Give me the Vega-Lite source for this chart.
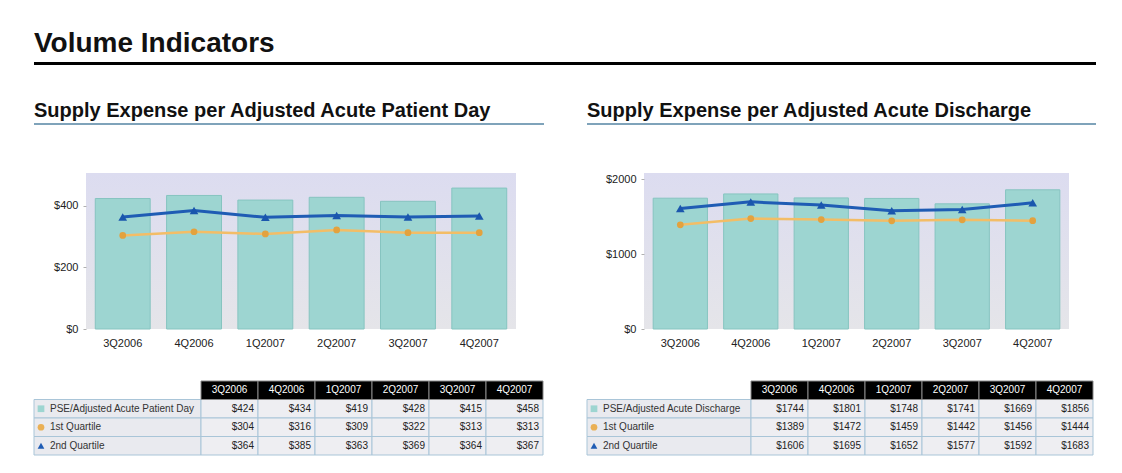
{
  "$schema": "https://vega.github.io/schema/vega-lite/v6.json",
  "background": "white",
  "padding": {"left": 33, "top": 30, "right": 27, "bottom": 20},
  "spacing": 0,
  "config": {
    "view": {"stroke": null},
    "font": "Liberation Sans",
    "title": {"anchor": "start", "baseline": "alphabetic", "font": "Liberation Sans", "fontWeight": "bold", "color": "#111111"}
  },
  "datasets": {
    "left": [
      {"quarter": "3Q2006", "pse": 424, "q1": 304, "q2": 364},
      {"quarter": "4Q2006", "pse": 434, "q1": 316, "q2": 385},
      {"quarter": "1Q2007", "pse": 419, "q1": 309, "q2": 363},
      {"quarter": "2Q2007", "pse": 428, "q1": 322, "q2": 369},
      {"quarter": "3Q2007", "pse": 415, "q1": 313, "q2": 364},
      {"quarter": "4Q2007", "pse": 458, "q1": 313, "q2": 367}
    ],
    "right": [
      {"quarter": "3Q2006", "pse": 1744, "q1": 1389, "q2": 1606},
      {"quarter": "4Q2006", "pse": 1801, "q1": 1472, "q2": 1695},
      {"quarter": "1Q2007", "pse": 1748, "q1": 1459, "q2": 1652},
      {"quarter": "2Q2007", "pse": 1741, "q1": 1442, "q2": 1577},
      {"quarter": "3Q2007", "pse": 1669, "q1": 1456, "q2": 1592},
      {"quarter": "4Q2007", "pse": 1856, "q1": 1444, "q2": 1683}
    ],
    "labelsL": [
      {"key": "pse", "label": "PSE/Adjusted Acute Patient Day"},
      {"key": "q1", "label": "1st Quartile"},
      {"key": "q2", "label": "2nd Quartile"}
    ],
    "labelsR": [
      {"key": "pse", "label": "PSE/Adjusted Acute Discharge"},
      {"key": "q1", "label": "1st Quartile"},
      {"key": "q2", "label": "2nd Quartile"}
    ]
  },
  "vconcat": [
    {
      "width": 1062, "height": 3,
      "view": {"fill": "#000000"},
      "title": {"text": "Volume Indicators", "fontSize": 28, "offset": 4},
      "data": {"values": []},
      "mark": "point"
    },
    {"width": 1, "height": 36, "data": {"values": []}, "mark": "point"},
    {
      "hconcat": [
        {
          "width": 510, "height": 2,
          "view": {"fill": "#7fa3ba"},
          "title": {"text": "Supply Expense per Adjusted Acute Patient Day", "fontSize": 20, "offset": 2},
          "data": {"values": []},
          "mark": "point"
        },
        {
          "width": 509, "height": 2,
          "view": {"fill": "#7fa3ba"},
          "title": {"text": "Supply Expense per Adjusted Acute Discharge", "fontSize": 20, "offset": 2},
          "data": {"values": []},
          "mark": "point"
        }
      ],
      "spacing": 43,
      "bounds": "flush"
    },
    {"width": 1, "height": 47, "data": {"values": []}, "mark": "point"},
    {
      "hconcat": [
        {"width": 52, "height": 207, "data": {"values": []}, "mark": "point"},
        {
          "width": 430, "height": 156,
          "view": {"fill": {"gradient": "linear", "x1": 0, "y1": 0, "x2": 0, "y2": 1, "stops": [{"offset": 0, "color": "#dcdcf0"}, {"offset": 1, "color": "#e5e5e9"}]}},
          "data": {"name": "left"},
          "encoding": {
            "x": {"field": "quarter", "type": "ordinal", "sort": null, "scale": {"paddingInner": 0.23, "paddingOuter": 0.13},
                  "axis": {"title": null, "domain": false, "ticks": false, "labelAngle": 0, "labelPadding": 8, "labelFontSize": 11, "labelColor": "#222222"}}
          },
          "layer": [
            {
              "mark": {"type": "bar", "fill": "#9dd5d1", "stroke": "#86c4c0", "strokeWidth": 1},
              "encoding": {"y": {"field": "pse", "type": "quantitative", "scale": {"domain": [0, 507], "nice": false},
                "axis": {"title": null, "values": [0, 200, 400], "format": "$.0f", "domain": false, "ticks": true, "tickSize": 3, "tickColor": "#b0b0b0", "labelPadding": 5, "labelFontSize": 11, "labelColor": "#222222", "grid": false}}}
            },
            {
              "mark": {"type": "line", "color": "#f3bd66", "strokeWidth": 2.5, "point": {"filled": true, "shape": "circle", "size": 45, "color": "#e3a23e"}},
              "encoding": {"y": {"field": "q1", "type": "quantitative",
                "axis": {"title": null, "values": [0, 200, 400], "format": "$.0f", "domain": false, "ticks": true, "tickSize": 3, "tickColor": "#b0b0b0", "labelPadding": 5, "labelFontSize": 11, "labelColor": "#222222", "grid": false}}}
            },
            {
              "mark": {"type": "line", "color": "#1f5cb4", "strokeWidth": 3, "point": {"filled": true, "shape": "triangle-up", "size": 75, "color": "#1a56ad"}},
              "encoding": {"y": {"field": "q2", "type": "quantitative",
                "axis": {"title": null, "values": [0, 200, 400], "format": "$.0f", "domain": false, "ticks": true, "tickSize": 3, "tickColor": "#b0b0b0", "labelPadding": 5, "labelFontSize": 11, "labelColor": "#222222", "grid": false}}}
            }
          ]
        },
        {"width": 128, "height": 207, "data": {"values": []}, "mark": "point"},
        {
          "width": 425, "height": 156,
          "view": {"fill": {"gradient": "linear", "x1": 0, "y1": 0, "x2": 0, "y2": 1, "stops": [{"offset": 0, "color": "#dcdcf0"}, {"offset": 1, "color": "#e5e5e9"}]}},
          "data": {"name": "right"},
          "encoding": {
            "x": {"field": "quarter", "type": "ordinal", "sort": null, "scale": {"paddingInner": 0.23, "paddingOuter": 0.13},
                  "axis": {"title": null, "domain": false, "ticks": false, "labelAngle": 0, "labelPadding": 8, "labelFontSize": 11, "labelColor": "#222222"}}
          },
          "layer": [
            {
              "mark": {"type": "bar", "fill": "#9dd5d1", "stroke": "#86c4c0", "strokeWidth": 1},
              "encoding": {"y": {"field": "pse", "type": "quantitative", "scale": {"domain": [0, 2080], "nice": false},
                "axis": {"title": null, "values": [0, 1000, 2000], "format": "$.0f", "domain": false, "ticks": true, "tickSize": 3, "tickColor": "#b0b0b0", "labelPadding": 5, "labelFontSize": 11, "labelColor": "#222222", "grid": false}}}
            },
            {
              "mark": {"type": "line", "color": "#f3bd66", "strokeWidth": 2.5, "point": {"filled": true, "shape": "circle", "size": 45, "color": "#e3a23e"}},
              "encoding": {"y": {"field": "q1", "type": "quantitative",
                "axis": {"title": null, "values": [0, 1000, 2000], "format": "$.0f", "domain": false, "ticks": true, "tickSize": 3, "tickColor": "#b0b0b0", "labelPadding": 5, "labelFontSize": 11, "labelColor": "#222222", "grid": false}}}
            },
            {
              "mark": {"type": "line", "color": "#1f5cb4", "strokeWidth": 3, "point": {"filled": true, "shape": "triangle-up", "size": 75, "color": "#1a56ad"}},
              "encoding": {"y": {"field": "q2", "type": "quantitative",
                "axis": {"title": null, "values": [0, 1000, 2000], "format": "$.0f", "domain": false, "ticks": true, "tickSize": 3, "tickColor": "#b0b0b0", "labelPadding": 5, "labelFontSize": 11, "labelColor": "#222222", "grid": false}}}
            }
          ]
        }
      ],
      "spacing": 0,
      "bounds": "flush"
    },
    {
      "hconcat": [
        {
          "width": 167, "height": 74,
          "data": {"name": "labelsL"},
          "encoding": {
            "y": {"field": "key", "type": "nominal", "scale": {"domain": ["header", "pse", "q1", "q2"], "paddingInner": 0, "paddingOuter": 0}, "axis": null},
            "x": {"datum": "label", "type": "nominal", "scale": {"paddingInner": 0, "paddingOuter": 0}, "axis": null}
          },
          "layer": [
            {"mark": {"type": "rect", "fill": "#e9eaef", "stroke": "#a9c5d8", "strokeWidth": 1}},
            {"mark": {"type": "point", "filled": true, "size": 45, "xOffset": 7, "opacity": 1},
             "encoding": {
               "x": {"datum": "label", "type": "nominal", "bandPosition": 0},
               "shape": {"field": "key", "type": "nominal", "scale": {"domain": ["pse", "q1", "q2"], "range": ["square", "circle", "triangle-up"]}, "legend": null},
               "color": {"field": "key", "type": "nominal", "scale": {"domain": ["pse", "q1", "q2"], "range": ["#9dd5d1", "#eab055", "#1f5cb4"]}, "legend": null}
             }},
            {"mark": {"type": "text", "align": "left", "dx": 16, "fontSize": 10, "color": "#333333"},
             "encoding": {"x": {"datum": "label", "type": "nominal", "bandPosition": 0}, "text": {"field": "label"}}}
          ]
        },
        {
          "width": 342, "height": 74,
          "data": {"name": "left"},
          "transform": [{"fold": ["pse", "q1", "q2"], "as": ["key", "v"]}],
          "encoding": {
            "x": {"field": "quarter", "type": "nominal", "scale": {"domain": ["3Q2006", "4Q2006", "1Q2007", "2Q2007", "3Q2007", "4Q2007"], "paddingInner": 0, "paddingOuter": 0}, "axis": null},
            "y": {"field": "key", "type": "nominal", "scale": {"domain": ["header", "pse", "q1", "q2"], "paddingInner": 0, "paddingOuter": 0}, "axis": null}
          },
          "layer": [
            {"mark": {"type": "rect", "fill": "#eeeef2", "stroke": "#a9c5d8", "strokeWidth": 1}},
            {"mark": {"type": "text", "align": "right", "dx": -4, "fontSize": 10, "color": "#222222"},
             "encoding": {"x": {"field": "quarter", "type": "nominal", "bandPosition": 1}, "text": {"field": "v", "format": "$.0f"}}},
            {"transform": [{"filter": "datum.key === 'pse'"}],
             "mark": {"type": "rect", "fill": "#000000", "stroke": "#888888", "strokeWidth": 1},
             "encoding": {"y": {"datum": "header"}}},
            {"transform": [{"filter": "datum.key === 'pse'"}],
             "mark": {"type": "text", "fontSize": 10, "color": "#ffffff"},
             "encoding": {"y": {"datum": "header"}, "text": {"field": "quarter"}}}
          ]
        },
        {"width": 44, "height": 74, "data": {"values": []}, "mark": "point"},
        {
          "width": 164, "height": 74,
          "data": {"name": "labelsR"},
          "encoding": {
            "y": {"field": "key", "type": "nominal", "scale": {"domain": ["header", "pse", "q1", "q2"], "paddingInner": 0, "paddingOuter": 0}, "axis": null},
            "x": {"datum": "label", "type": "nominal", "scale": {"paddingInner": 0, "paddingOuter": 0}, "axis": null}
          },
          "layer": [
            {"mark": {"type": "rect", "fill": "#e9eaef", "stroke": "#a9c5d8", "strokeWidth": 1}},
            {"mark": {"type": "point", "filled": true, "size": 45, "xOffset": 7, "opacity": 1},
             "encoding": {
               "x": {"datum": "label", "type": "nominal", "bandPosition": 0},
               "shape": {"field": "key", "type": "nominal", "scale": {"domain": ["pse", "q1", "q2"], "range": ["square", "circle", "triangle-up"]}, "legend": null},
               "color": {"field": "key", "type": "nominal", "scale": {"domain": ["pse", "q1", "q2"], "range": ["#9dd5d1", "#eab055", "#1f5cb4"]}, "legend": null}
             }},
            {"mark": {"type": "text", "align": "left", "dx": 16, "fontSize": 10, "color": "#333333"},
             "encoding": {"x": {"datum": "label", "type": "nominal", "bandPosition": 0}, "text": {"field": "label"}}}
          ]
        },
        {
          "width": 342, "height": 74,
          "data": {"name": "right"},
          "transform": [{"fold": ["pse", "q1", "q2"], "as": ["key", "v"]}],
          "encoding": {
            "x": {"field": "quarter", "type": "nominal", "scale": {"domain": ["3Q2006", "4Q2006", "1Q2007", "2Q2007", "3Q2007", "4Q2007"], "paddingInner": 0, "paddingOuter": 0}, "axis": null},
            "y": {"field": "key", "type": "nominal", "scale": {"domain": ["header", "pse", "q1", "q2"], "paddingInner": 0, "paddingOuter": 0}, "axis": null}
          },
          "layer": [
            {"mark": {"type": "rect", "fill": "#eeeef2", "stroke": "#a9c5d8", "strokeWidth": 1}},
            {"mark": {"type": "text", "align": "right", "dx": -4, "fontSize": 10, "color": "#222222"},
             "encoding": {"x": {"field": "quarter", "type": "nominal", "bandPosition": 1}, "text": {"field": "v", "format": "$.0f"}}},
            {"transform": [{"filter": "datum.key === 'pse'"}],
             "mark": {"type": "rect", "fill": "#000000", "stroke": "#888888", "strokeWidth": 1},
             "encoding": {"y": {"datum": "header"}}},
            {"transform": [{"filter": "datum.key === 'pse'"}],
             "mark": {"type": "text", "fontSize": 10, "color": "#ffffff"},
             "encoding": {"y": {"datum": "header"}, "text": {"field": "quarter"}}}
          ]
        }
      ],
      "spacing": 0,
      "bounds": "flush"
    }
  ]
}
